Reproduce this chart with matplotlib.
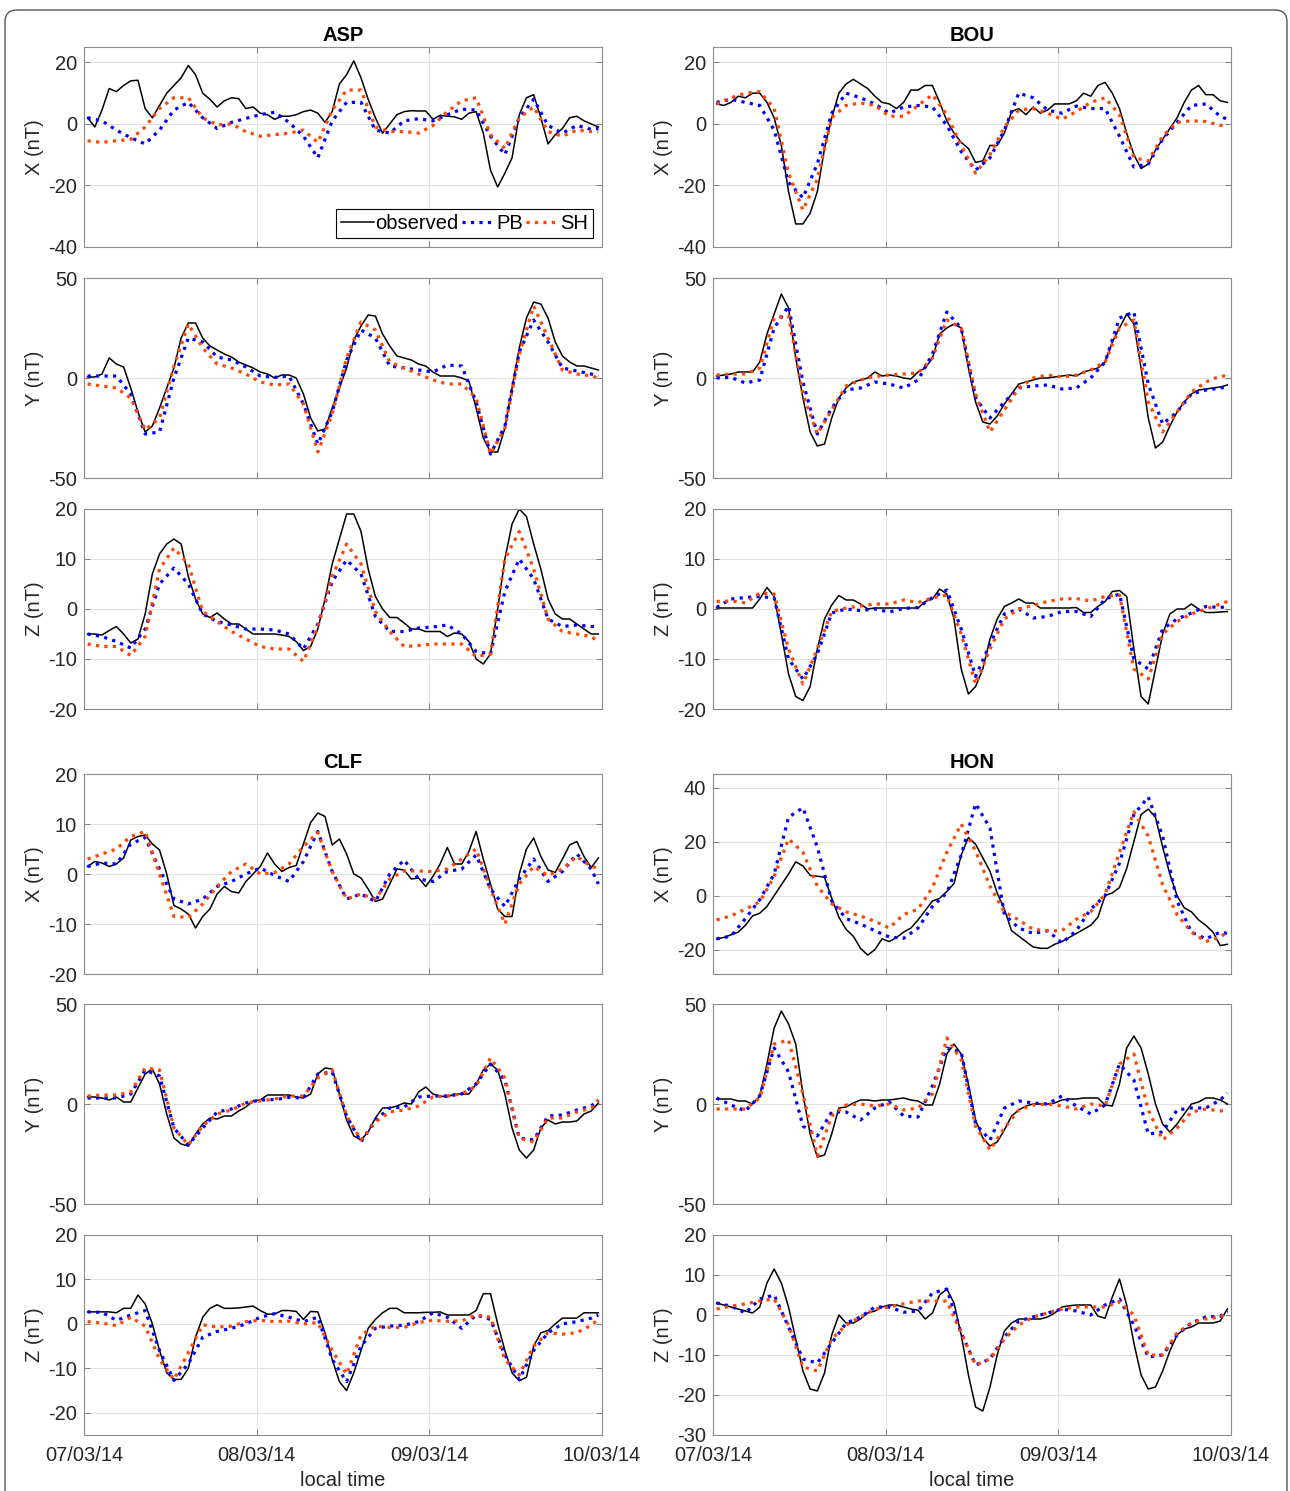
import numpy as np
import matplotlib.pyplot as plt
from matplotlib.patches import FancyBboxPatch

plt.rcParams['font.family'] = ['Liberation Sans', 'DejaVu Sans']
plt.rcParams['axes.unicode_minus'] = False

# time axis: hours after 07/03/14 00:00 (hourly means, models read every 2 h)
t_obs = np.arange(72) + 0.5
t_mod = np.r_[np.arange(0.5, 71, 2), 71.5]

date_ticks = [0, 24, 48, 72]
date_labels = ["07/03/14", "08/03/14", "09/03/14", "10/03/14"]

# ---------------- ASP ----------------
asp_x_obs = [2, -1, 4.5, 11.5, 10.5, 12.5, 14, 14.2, 5, 2, 6, 10, 12.5, 15, 19, 16, 10, 8, 5.5, 7.5,
             8.5, 8.2, 5, 5.5, 3.5, 3, 1.5, 2.5, 2.5, 3, 4, 4.5, 3.5, 0.5, 4, 13, 16, 20.5, 15, 8,
             2, -3, 0, 3, 4, 4.3, 4.2, 4.2, 1.5, 2.8, 2.5, 2.3, 1.5, 3.5, 4, -3, -15, -20.5, -16, -11,
             3, 8.5, 9.5, 2, -6.5, -3.5, -1.5, 2, 2.5, 1, 0, -1]
asp_x_pb = [2, 1, -2, -4.5, -6.5, -2, 4.5, 7, 2, -1.5, 0.5, 1.8, 3, 3.8, 0.5, -4, -11, 1, 7, 7,
            -2, -3, 1, 1.7, 1, 3, 4.8, 4.5, -4, -10, 2, 8, -0.5, -3, -0.5, -1.8, -1.5]
asp_x_sh = [-5.5, -6, -5.5, -5, -1, 5, 8.5, 8.5, 2, -0.3, 0, -2.5, -4, -3.5, -3, -2, -6, 4.5, 11, 11,
            -1, -2.5, -2.5, -3, -0.5, 4, 7.5, 8.5, -3.5, -8, 2, 5.5, -2.5, -4, -2, -2.5, -2.5]

asp_y_obs = [0.5, 0.5, 2, 10, 7, 5.5, -5, -17, -27, -24, -15, -5, 5, 20, 27.5, 27.5, 20, 16, 14, 12,
             10.5, 8, 6.5, 5, 3, 2, 0, 1.5, 1.5, 0, -8, -20, -26.5, -25.5, -15, -5, 5, 19, 26, 31.5,
             31, 22, 16, 11, 10, 9, 7, 6, 3, 1, 1, 1, 0, -1.5, -15, -30, -37, -37, -25, -5,
             15, 30, 38, 37, 30, 18, 11, 8, 6, 6, 5, 4]
asp_y_pb = [1, 1, 1, -8, -28, -27, 0, 20, 18, 10.5, 9, 5.5, 1, 0.3, 1, -13, -33, -17, 9, 24,
            20, 6, 5, 4, 3, 6.5, 6, -12, -38, -24, 13, 29, 18, 5, 3.5, 2, 1]
asp_y_sh = [-3, -4, -5, -10, -26, -20, 6, 27, 15, 7, 5, 2, -2, -3.5, -3, -13, -37, -18, 10, 28,
            24, 8, 5, 2, -1, -3, -3, -10, -38, -25, 12, 36, 20, 4, 2, 1, 0]

asp_z_obs = [-5, -5, -5.2, -4.3, -3.5, -5, -6.8, -6, -1, 7, 11, 13, 14, 13, 6.5, 2, -1, -1.7, -0.8, -2,
             -3, -3, -4, -5, -5, -5, -5, -5.2, -5.5, -6.5, -8.3, -7.5, -4, 2, 9, 14, 19, 19, 15.5, 8,
             2.5, 0, -1.7, -1.7, -2.8, -4, -4, -4.5, -4.5, -4.5, -5.5, -4.8, -5, -6.5, -10, -11, -9, 0, 10, 17,
             20, 18.5, 13, 8, 2, -1, -2, -2, -3, -4, -5, -5]
asp_z_pb = [-5, -5.5, -6.5, -7.8, -4, 5, 8.2, 5, -1, -2.5, -3.2, -4, -4, -4.2, -5, -8, -3, 5.5, 9.8, 7,
            -1.5, -4.5, -4.5, -3.8, -3.6, -3.2, -5, -8.5, -9, 3.5, 10, 6, -2, -3.5, -3.2, -3.5, -3.5]
asp_z_sh = [-7, -7.5, -7.5, -9.3, -5.5, 8, 12.2, 9, -0.5, -2.5, -4.5, -6, -7.5, -8, -8, -10.5, -3.5, 6.5, 13, 9,
            -0.5, -4.5, -7.5, -7.3, -7, -7, -7, -9.5, -9, 10, 15.5, 8, -2, -4.5, -5, -5.5, -6.5]

# ---------------- BOU ----------------
bou_x_obs = [6.5, 6, 7, 9, 8.5, 10, 10, 7, 2, -7, -22, -32.5, -32.5, -29, -22, -8, 2, 10, 13, 14.5,
             13, 11.5, 9, 7, 6.5, 5, 7, 11, 11, 12.5, 12.5, 7, 1, -3, -6, -8, -12.5, -12, -7, -7,
             -3, 4, 5, 3, 5.5, 3.5, 4.5, 6.5, 6.5, 6.5, 7.5, 10, 9, 12.5, 13.5, 10, 5, -3, -10, -14.5,
             -13, -8.5, -5, -1.5, 2, 7, 11, 12.5, 9.5, 9.5, 7.5, 7]
bou_x_pb = [7, 8, 7, 6, -2, -19, -24, -13, 3.5, 10, 8.5, 6.5, 3.5, 5.5, 6, 5.5, -0.5, -9, -15, -11,
            -2, 10, 8.5, 4.5, 3.5, 5.8, 5, 5, -4, -14, -13, -5, 0.5, 6, 6.5, 2.5, 1.5]
bou_x_sh = [6.5, 8.5, 10, 10.5, 5, -16, -28, -18, 2, 6, 6.8, 6, 2.5, 2.5, 6, 9.5, 3, -7, -16, -10,
            -1, 4.5, 5, 3.5, 1.5, 4, 7, 8.5, 3, -11, -12, -4, 0.5, 1, 0.8, -0.5, 0]

bou_y_obs = [1, 1.5, 2, 3, 3, 3, 8, 22, 32, 42, 35, 10, -10, -27, -34, -33, -20, -10, -5, -2,
             -1, 0, 3, 1, 1.5, 1, 0, -0.5, 3, 5, 10, 22, 25, 27, 25, 5, -12, -22, -23, -19,
             -13, -8, -3, -2, -1, 0, 0, 0.5, 1, 1.5, 1, 3, 4, 5, 8, 18, 25, 32, 27, 5,
             -20, -35, -32, -24, -17, -12, -8, -6, -5.5, -5, -4.5, -3.5]
bou_y_pb = [0, 0.3, -2.5, -1, 25, 36, -2, -28, -15, -6, -5, -2, -3, -5, -1, 12, 33, 25, -10, -20,
            -12, -5, -4, -3.5, -5.5, -5, 0, 8, 30, 33, -3, -23, -17, -8, -6, -5, -4.5]
bou_y_sh = [1.5, 2, 2, 5, 30, 31, -8, -28, -16, -4, -1, 0.8, 1.5, 2, 2.5, 10, 29, 25, -8, -27,
            -16, -5, 0, 1.5, 0.5, 1.5, 4, 8, 25, 29, -12, -27, -17, -7, -2, 1, 1]

bou_z_obs = [0.2, 0.2, 0.2, 0.2, 0.2, 0.2, 2, 4.3, 2.5, -5, -13, -17.5, -18.3, -15.5, -8, -2, 0.8, 2.7, 1.8, 1.8,
             1, 0, 0.2, 0.2, 0.2, 0.2, 0.2, 0.2, 0.2, 1.5, 2, 4, 3, -2, -12, -17, -15.5, -12, -6, -2,
             0.5, 1.2, 2, 1.2, 1.2, 0.2, 0.2, 0.2, 0.2, 0.2, 0.3, -0.7, -0.7, 0.5, 1.5, 3.5, 3.7, 2.5, -8, -17.5,
             -19, -12, -5, -1, 0, 0, 1, 0, -0.7, -0.7, -0.6, -0.5]
bou_z_pb = [0.3, 2, 2.3, 2.5, 2.2, -10, -14, -9, -0.8, 0, -0.3, 0, -0.6, 0.1, 0.3, 2.3, 3.8, -4, -13.5, -7,
            -1, 0, -1.8, -1.5, -0.5, -0.5, -1.5, 2, 3, -10, -12, -4, -2, -0.8, 0.5, 0.3, 0.5]
bou_z_sh = [1.5, 1.6, 1.2, 3.2, 3, -8, -15, -8, -0.5, 0.2, 0.6, 1, 1, 1.8, 1.3, 2.2, 2.8, -5, -15, -8,
            -2, 0, 0.7, 1.5, 2, 2.1, 1.6, 2.5, 2.8, -12, -14, -5, -2.5, -1, 0, 1, 1.5]

# ---------------- CLF ----------------
clf_x_obs = [1.5, 2.5, 2.2, 1.5, 2, 3.2, 6.8, 7.5, 7.8, 6, 4.8, 0, -6.3, -7, -8, -10.8, -8.5, -7, -4, -2.5,
             -3.5, -3.8, -1.5, 0, 1.5, 4.2, 2, 0.5, 1.3, 1.7, 6, 10.3, 12.2, 11.5, 5.8, 7, 4, 0, -0.8, -3,
             -5.5, -5, -2, 1, 0.8, -1, -0.8, -2.5, -0.5, 2, 5.3, 2, 2, 4.5, 8.5, 3, -2, -7, -8.5, -8.5,
             0, 5, 7.2, 3.5, 0.8, 0.3, 3, 5.8, 6.5, 3.5, 1.3, 3.2]
clf_x_pb = [1.5, 2.2, 2, 6, 7.3, 1, -5, -6, -5, -2.5, -1.5, 0, 1.2, -0.3, -1.5, 2.5, 8.5, 0.5, -5, -4,
            -5.5, 0, 2.8, -1, -1.5, 0.5, 1, 3.8, -3, -6.5, -1, 3, -1.5, 0.5, 4, 1, -2]
clf_x_sh = [3, 4, 5, 7.5, 8.5, 0, -8.5, -8.7, -6, -2.5, 0.5, 2, 0, 0.3, 2, 5.5, 8.3, 0.5, -5, -4,
            -5, -1, 0.6, 0.6, 0.5, 1, 3, 5, -3, -10, -2, 1.5, -0.3, 1, 3.5, 1.5, 1.2]

clf_y_obs = [3.5, 3.5, 3, 2, 3.5, 1, 1, 8, 15, 17.5, 10, -5, -17, -20, -21, -15, -10, -7, -7.5, -6,
             -6, -3.5, -1.5, 1.5, 2, 4.5, 4.5, 4.5, 4.5, 3.5, 3, 5, 15, 18, 17.5, 5, -8, -16, -18, -14,
             -7, -2, -2, -1, 0.5, 0, 6, 8.5, 5, 4, 3.5, 5, 5, 5, 10, 17, 20, 17, 5, -12,
             -23, -27, -23, -12, -8, -10, -9, -9, -8.5, -5, -3.5, 0.5]
clf_y_pb = [3, 3, 3, 5, 17, 14, -12, -20.5, -12, -4, -2.5, 0.5, 2, 2.2, 3.3, 3, 15, 16, -6, -19,
            -8, -2, -1.5, 3.5, 4, 4, 5, 10, 20, 12, -17, -18, -6, -5.5, -3, -1, 2]
clf_y_sh = [4, 4.5, 4.5, 6, 18, 17, -12, -20.5, -11, -5, -3, 0.5, 1.5, 2.5, 4, 4, 13, 17, -6, -18,
            -9, -4, -3, -1, 3.5, 4, 5, 9, 23, 13, -17, -19, -7, -7, -4, -2, 2]

clf_z_obs = [2.7, 2.7, 2.7, 2.7, 2.5, 3.5, 3.5, 6.5, 4.5, 0, -6, -11, -12.5, -12.5, -10, -3, 1.5, 3.5, 4.3, 3.5,
             3.5, 3.6, 3.8, 4, 3, 2.2, 2.2, 3, 3, 2.8, 1, 2.8, 2.7, -2, -8, -13, -15, -11, -6, -1,
             1, 2.5, 3.5, 3.5, 2.5, 2.5, 2.5, 2.6, 2.6, 2.7, 2, 2, 2, 2, 3, 6.8, 6.8, 0, -6, -11,
             -12.8, -12, -5, -2, -1.5, 0, 1.3, 1.3, 1.3, 2.5, 2.5, 2.5]
clf_z_pb = [2.7, 2.6, 0.8, 2, 3, -6, -12.7, -9, -3, -1.7, -1, 0, 1.5, 2.3, 1.5, 0.5, 1.5, -8, -13, -5,
            -1, -0.5, -0.3, 0.5, 2.5, 1.5, -1, 2, 1, -7, -12.5, -6, -2, 0, 0.5, 1.3, 2]
clf_z_sh = [0.5, 0.2, -0.4, 1.5, -0.5, -8, -12.5, -6.5, -0.2, -0.7, -0.5, 0.5, 0.8, 0.5, 0.6, 0, 0.3, -6, -11.3, -2.5,
            -0.5, -0.8, -0.8, 0.3, 0.8, 0.6, 0.7, 2, 1.5, -8, -11.5, -5, -2, -2.3, -2, -0.3, 1]

# ---------------- HON ----------------
hon_x_obs = [-16, -15.5, -14.5, -13.5, -11, -7.5, -6.5, -4, 0, 4, 8, 12.5, 11, 7.5, 7.2, 6.8, -1, -8, -12.5, -15,
             -19.5, -22, -20, -16, -17, -15.5, -13.5, -12, -9, -5.5, -2, -1, 1.5, 4.5, 15, 21.5, 19, 14, 9, 1,
             -5, -13, -15, -17, -19, -19.5, -19.5, -18, -17, -15.5, -14, -12.5, -11, -8, 0, 1, 3, 10, 20, 30,
             32, 29, 18, 8, 0, -4.5, -6, -9, -11, -13.5, -18.5, -18]
hon_x_pb = [-16, -15, -8.5, -1.5, 8, 29, 32.5, 18, -2, -8.5, -10.5, -13, -15.3, -15.8, -12, -4, 1, 15, 34, 25,
            -7, -12, -14, -13, -17.5, -13, -5, 0, 12, 30, 36.5, 22, -2, -13.5, -16, -13.5, -14]
hon_x_sh = [-9, -7.5, -5, -2.3, 7, 21, 16, 3.5, -3, -6, -7.5, -9.5, -12, -7, -5, 3, 16, 26.5, 16.5, 3.5,
            -6, -9, -12.5, -13, -13, -8.7, -6, 0.5, 16, 31, 22, 4, -7, -13.5, -17, -15.3, -13.5]

hon_y_obs = [2.5, 2.5, 2.5, 1.5, 1.5, 0, 4, 20, 38, 46.5, 40, 30, 5, -15, -26.5, -25.5, -15, -2, -1.5, 0.5,
             2, 2, 1.5, 2, 2, 2.5, 3, 2, 1.5, -0.5, -0.5, 10, 25, 30, 25, 10, -8, -17, -21, -19,
             -13, -6, -3, -1, 0, 0, 0, 0.5, 2, 2.5, 2.5, 3, 3, 3, -0.5, -1, 10, 28, 34, 28,
             15, 0, -10, -14, -10, -5, 0, 1, 3, 3, 2, 0]
hon_y_pb = [3, -0.5, -3.5, 4, 28, 16, -11, -16, -4, -4, -8, -2, 1, -6, -6.5, 9, 28, 26, -10, -18,
            -2, 1.5, 0.5, 0, 4, -1, -5, -0.5, 20, 12, -15, -14, -3, -2, -2, 2, 5.5]
hon_y_sh = [-2.5, -2.5, -2.5, 3, 30, 32, 5, -26, -6, -0.5, 0, -1, 0, -3, -2, 5, 33, 22, -11, -23,
            -12, -3, -0.5, 0, -1, -2.5, 0, -1, 20, 25, -3, -18, -12, -4, -2.5, -3.5, -3]

hon_z_obs = [3, 2.5, 2, 1.5, 1, 0.5, 2, 8, 11.5, 8, 2, -6, -14, -18.5, -19, -14.5, -5, 0, -2, -2,
             -1, 0.5, 1, 2, 2.5, 2.5, 2, 1.5, 1.2, -1, 0.5, 5, 6.5, 3, -5, -15, -23, -24, -18, -10,
             -4, -2, -1, -1, -1, -1, -0.5, 0.5, 2, 2.3, 2.5, 2.5, 2.5, -0.3, -0.8, 4.5, 9, 2.5, -7, -15,
             -18.5, -18, -14, -9, -5, -3.5, -3, -2, -2, -2, -1.5, 1.5]
hon_z_pb = [3, 2.2, 0.5, 4, 5, -3, -11, -12, -7, -2, -0.5, 2, 2, 0.7, 1, 5.5, 6.5, -4.5, -12.5, -11,
            -5.5, -1.5, -0.5, 0.5, 1.5, 1, 0, 2.5, 4, -2.5, -10.5, -10, -5, -2, -0.5, -0.3, 1]
hon_z_sh = [1.5, 2.2, 2.8, 3.5, 4, -2.5, -13, -14, -6, -2.5, -0.5, 1.5, 2, 2.8, 3.5, 3.5, 3.5, -4.5, -12.5, -11,
            -6, -2.5, -0.5, 0.5, 1.5, 2, 2, 2, 3.3, 0, -10, -10, -4.5, -2, -1, -0.5, 0.5]

# layout in pixels
W, H = 1290, 1491
col_left = [84, 713]
row_top = [47, 278, 509, 774, 1004, 1235]
ax_w, ax_h = 518, 200

fs = 14.5
txt_col = '#262626'

fig = plt.figure(figsize=(W / 100, H / 100), dpi=100)

# rounded frame around the whole figure
frame = FancyBboxPatch((0.05, -0.3), 12.82, 14.81 + 0.3,
                       boxstyle="round,pad=0,rounding_size=0.12",
                       transform=fig.dpi_scale_trans, fill=False,
                       ec='#555555', lw=1.0)
fig.patches.append(frame)


def draw(col, row, comp, obs, pb, sh, ylim, yticks, title=None, legend=False):
    x0 = col_left[col] / W
    y0 = 1 - (row_top[row] + ax_h) / H
    ax = fig.add_axes([x0, y0, ax_w / W, ax_h / H])

    ax.plot(t_obs, obs, color='k', lw=1.1, label='observed')
    ax.plot(t_mod, pb, color='#0000ff', lw=2.3, ls=':', label='PB')
    ax.plot(t_mod, sh, color='#ff4500', lw=2.3, ls=':', label='SH')

    ax.set_xlim(0, 72)
    ax.set_ylim(*ylim)
    ax.set_xticks(date_ticks)
    ax.set_yticks(yticks)
    ax.grid(True, color='#e2e2e2', lw=0.8)
    ax.set_axisbelow(True)
    ax.tick_params(direction='in', length=4, width=0.7, color='#808080',
                   labelsize=fs, labelcolor=txt_col, top=True, right=True, pad=5)
    ax.tick_params(axis='x', pad=8)
    for s in ax.spines.values():
        s.set_color('#8c8c8c')
        s.set_linewidth(0.8)

    ax.set_ylabel(f"{comp} (nT)", fontsize=fs, color=txt_col)
    ax.yaxis.set_label_coords(-0.078, 0.5)

    # only the lowest row of each block of stations carries dates
    if row == 5:
        ax.set_xticklabels(date_labels)
        ax.set_xlabel("local time", fontsize=fs, color=txt_col, labelpad=4)
    else:
        ax.set_xticklabels([])

    if title:
        ax.set_title(title, fontsize=fs, fontweight='bold', pad=4)

    if legend:
        leg = ax.legend(loc='lower right', ncol=3, fontsize=fs, handlelength=1.6,
                        handletextpad=0.1, columnspacing=0.15, borderpad=0.25,
                        borderaxespad=0.45, fancybox=False, edgecolor='k', framealpha=1)
        leg.get_frame().set_linewidth(0.8)
    return ax


# ASP
draw(0, 0, "X", asp_x_obs, asp_x_pb, asp_x_sh, (-40, 25), [-40, -20, 0, 20], title="ASP", legend=True)
draw(0, 1, "Y", asp_y_obs, asp_y_pb, asp_y_sh, (-50, 50), [-50, 0, 50])
draw(0, 2, "Z", asp_z_obs, asp_z_pb, asp_z_sh, (-20, 20), [-20, -10, 0, 10, 20])

# BOU
draw(1, 0, "X", bou_x_obs, bou_x_pb, bou_x_sh, (-40, 25), [-40, -20, 0, 20], title="BOU")
draw(1, 1, "Y", bou_y_obs, bou_y_pb, bou_y_sh, (-50, 50), [-50, 0, 50])
draw(1, 2, "Z", bou_z_obs, bou_z_pb, bou_z_sh, (-20, 20), [-20, -10, 0, 10, 20])

# CLF
draw(0, 3, "X", clf_x_obs, clf_x_pb, clf_x_sh, (-20, 20), [-20, -10, 0, 10, 20], title="CLF")
draw(0, 4, "Y", clf_y_obs, clf_y_pb, clf_y_sh, (-50, 50), [-50, 0, 50])
draw(0, 5, "Z", clf_z_obs, clf_z_pb, clf_z_sh, (-25, 20), [-20, -10, 0, 10, 20])

# HON
draw(1, 3, "X", hon_x_obs, hon_x_pb, hon_x_sh, (-29, 45), [-20, 0, 20, 40], title="HON")
draw(1, 4, "Y", hon_y_obs, hon_y_pb, hon_y_sh, (-50, 50), [-50, 0, 50])
draw(1, 5, "Z", hon_z_obs, hon_z_pb, hon_z_sh, (-30, 20), [-30, -20, -10, 0, 10, 20])

fig.savefig("out.png", dpi=100)
